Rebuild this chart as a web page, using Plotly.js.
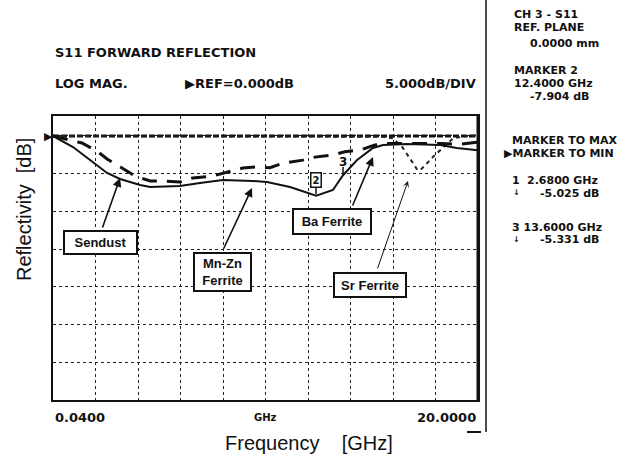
<!DOCTYPE html>
<html><head><meta charset="utf-8">
<script src="https://cdn.plot.ly/plotly-3.0.1.min.js"></script>
<style>html,body{margin:0;padding:0;background:#fff}#chart{width:643px;height:456px}</style>
</head><body><div id="chart"></div>
<script>
// ---- data (frequency in GHz, reflectivity in dB) ----
const solidFreq = [0.04, 0.98, 1.78, 2.58, 3.19, 4.13, 4.6, 6.0, 6.94, 8.02, 9.43, 10.09, 11.17, 12.11, 12.4, 13.19, 13.66, 14.32, 15.07, 15.54, 16.67, 18.22, 19.0, 20.0];
const solidDb   = [0, -1.46, -3.18, -4.9, -5.7, -6.5, -6.76, -6.63, -6.23, -5.84, -5.97, -6.1, -6.76, -7.69, -7.9, -7.16, -5.2, -3.18, -1.59, -1.19, -1.06, -1.19, -1.59, -1.9];

const dashFreq = [0.04, 1.4, 2.15, 2.58, 3.28, 3.89, 4.6, 5.2, 6.0, 6.6, 7.55, 8.21, 8.96, 9.62, 10.23, 10.84, 11.78, 12.34, 13.19, 13.75, 14.46, 15.16, 15.6, 16.5, 17.5, 18.3, 19.1, 20.0];
const dashDb   = [0, -0.93, -2.1, -3.05, -4.24, -5.3, -5.97, -5.97, -6.1, -5.57, -5.3, -4.77, -4.24, -4.1, -4.2, -3.6, -3.2, -2.8, -2.5, -2.1, -1.86, -1.2, -1.0, -1.0, -1.0, -1.0, -1.1, -0.8];

const srFreq = [0.04, 4, 8, 12, 15.5, 16.0, 16.44, 16.95, 17.15, 17.3, 17.98, 18.5, 18.83, 19.5, 20.0];
const srDb   = [0, 0, 0, 0, -0.1, -0.3, -1.46, -3.6, -4.5, -4.5, -2.5, -1.2, -0.3, 0, 0.1];

const refFreq = [0.04, 20.0];
const refDb   = [0, 0];

const xTickLabels = ["0.0400", "GHz", "20.0000"];
const headerTexts = ["S11 FORWARD REFLECTION", "LOG MAG.", "\u25B6REF=0.000dB", "5.000dB/DIV"];
const sideTexts = ["CH 3 - S11", "REF. PLANE", "0.0000 mm", "MARKER 2", "12.4000 GHz", "-7.904 dB",
                   "MARKER TO MAX", "\u25B6MARKER TO MIN", "1", "2.6800 GHz", "\u2193", "-5.025 dB",
                   "3 13.6000 GHz", "\u2193", "-5.331 dB"];
const materialLabels = ["Sendust", "Mn-Zn<br>Ferrite", "Ba Ferrite", "Sr Ferrite"];

// ---- layout helpers (pixel -> paper coordinates) ----
const PL = 53, PR = 478, PT = 116, PB = 400;
const xp = px => (px - PL) / (PR - PL);
const yp = py => (PB - py) / (PB - PT);
const X0 = 0.04, X1 = 20.0, Y0 = -35, Y1 = 2.65;
const xd = px => X0 + (px - PL) / (PR - PL) * (X1 - X0);
const yd = py => Y0 + (PB - py) / (PB - PT) * (Y1 - Y0);

const instFont = {family: "DejaVu Sans, Verdana, sans-serif", size: 13, color: "#111"};
const sideFont = {family: "DejaVu Sans, Verdana, sans-serif", size: 11, color: "#111"};
const smallFont = {family: "DejaVu Sans, Verdana, sans-serif", size: 8, color: "#111"};
const boxFont = {family: "Liberation Sans, Arial, sans-serif", size: 13, color: "#111"};

const traces = [
  {x: refFreq, y: refDb, mode: "lines", name: "reference", line: {color: "#111", width: 3, dash: "6px,2px"}, hoverinfo: "skip"},
  {x: srFreq, y: srDb, mode: "lines", name: "Sr Ferrite", line: {color: "#222", width: 2, dash: "4px,4px"}},
  {x: dashFreq, y: dashDb, mode: "lines", name: "Sendust", line: {color: "#111", width: 3, dash: "15px,10px"}},
  {x: solidFreq, y: solidDb, mode: "lines", name: "Mn-Zn / Ba Ferrite", line: {color: "#111", width: 2}}
];

const ann = [];
function txt(t, px, py, font, anchor) {
  ann.push({text: t, xref: "paper", yref: "paper", x: xp(px), y: yp(py), xanchor: anchor || "left", yanchor: "middle", showarrow: false, font: font});
}
// header
txt("<b>" + headerTexts[0] + "</b>", 53, 52, instFont);
txt("<b>" + headerTexts[1] + "</b>", 53, 84, instFont);
txt("<b>" + headerTexts[2] + "</b>", 183, 84, instFont);
txt("<b>" + headerTexts[3] + "</b>", 478, 84, instFont, "right");
// side panel
const sidePos = [[512,15],[512,27],[528,44],[512,70.5],[512,84],[528,96.5],[510,140],[502,153],[510,180],[525,180],[511,192],[538,193],[510,227],[511,239],[538,239]];
sideTexts.forEach((t, i) => txt("<b>" + t + "</b>", sidePos[i][0], sidePos[i][1], t === "\u2193" ? smallFont : sideFont));
// x tick labels
txt("<b>" + xTickLabels[0] + "</b>", 53, 417, instFont);
txt("<b>" + xTickLabels[1] + "</b>", 265, 417, {family: instFont.family, size: 10, color: "#111"}, "center");
txt("<b>" + xTickLabels[2] + "</b>", 478, 417, instFont, "right");
// axis titles
ann.push({text: "Frequency\u00A0\u00A0\u00A0\u00A0[GHz]", xref: "paper", yref: "paper", x: xp(309), y: yp(443), xanchor: "center", yanchor: "middle", showarrow: false, font: {family: "Liberation Sans, Arial, sans-serif", size: 20, color: "#111"}});
ann.push({text: "Reflectivity\u00A0\u00A0[dB]", xref: "paper", yref: "paper", x: xp(24), y: yp(210), xanchor: "center", yanchor: "middle", textangle: -90, showarrow: false, font: {family: "Liberation Sans, Arial, sans-serif", size: 20, color: "#111"}});
// reference position triangle
txt("\u25B6", 55, 136, {family: "DejaVu Sans", size: 11, color: "#111"}, "right");

// material label boxes
const boxes = [[100.5, 242.5, 71, 21], [222.5, 272, 55, 36], [332, 221.5, 76, 23], [370, 285, 70, 22]];
materialLabels.forEach((t, i) => {
  const b = boxes[i];
  ann.push({text: "<b>" + t + "</b>", xref: "paper", yref: "paper", x: xp(b[0]), y: yp(b[1]), xanchor: "center", yanchor: "middle",
    showarrow: false, width: b[2], height: b[3], borderpad: 0, borderwidth: 2, bordercolor: "#111", bgcolor: "#fff", font: boxFont});
});
// arrows (tail px -> tip px)
const arrows = [[102, 229, 120, 178, 1.6, 2], [223, 250, 252, 188, 1.6, 2], [352, 207, 373, 157, 1.6, 2], [377, 270, 408, 181, 1, 3]];
arrows.forEach(a => {
  ann.push({text: "", x: xd(a[2]), y: yd(a[3]), ax: xd(a[0]), ay: yd(a[1]), axref: "x", ayref: "y", xref: "x", yref: "y",
    showarrow: true, arrowhead: a[5], arrowsize: 1.1, arrowwidth: a[4], arrowcolor: "#111", standoff: 0, startstandoff: 0});
});
// marker flags
ann.push({text: "<b>2</b>", xref: "paper", yref: "paper", x: xp(316), y: yp(180), xanchor: "center", yanchor: "middle", showarrow: false,
  borderwidth: 1.5, bordercolor: "#111", bgcolor: "#fff", borderpad: 1, font: {family: "DejaVu Sans", size: 10, color: "#111"}});
txt("<b>3</b>", 343, 162, {family: "DejaVu Sans", size: 12, color: "#111"}, "center");

const shapes = [
  {type: "line", xref: "paper", yref: "paper", x0: xp(316), x1: xp(316), y0: yp(187), y1: yp(194), line: {color: "#111", width: 1.5}},
  {type: "line", xref: "paper", yref: "paper", x0: xp(343), x1: xp(343), y0: yp(167), y1: yp(173), line: {color: "#111", width: 1.5}},
  {type: "line", xref: "paper", yref: "paper", x0: xp(486), x1: xp(486), y0: yp(0), y1: yp(432), line: {color: "#111", width: 1.5}},
  {type: "line", xref: "paper", yref: "paper", x0: xp(467), x1: xp(481), y0: yp(432), y1: yp(432), line: {color: "#111", width: 2}},
  {type: "line", xref: "paper", yref: "paper", x0: 1, x1: 1, y0: 0, y1: 1, line: {color: "#111", width: 3}}
];

const layout = {
  width: 643, height: 456,
  margin: {l: PL, r: 643 - PR, t: PT, b: 456 - PB, pad: 0},
  paper_bgcolor: "#fff", plot_bgcolor: "#fff",
  showlegend: false,
  xaxis: {range: [X0, X1], tick0: 0.04, dtick: 1.996, showgrid: true, gridcolor: "#222", gridwidth: 1, griddash: "dot",
          zeroline: false, showticklabels: false, ticks: "", showline: true, mirror: true, linecolor: "#111", linewidth: 2, fixedrange: true},
  yaxis: {range: [Y0, Y1], tick0: 0, dtick: 5, showgrid: true, gridcolor: "#222", gridwidth: 1, griddash: "dot",
          zeroline: false, showticklabels: false, ticks: "", showline: true, mirror: true, linecolor: "#111", linewidth: 2, fixedrange: true},
  annotations: ann,
  shapes: shapes
};
Plotly.newPlot("chart", traces, layout, {staticPlot: true, displayModeBar: false});
</script></body></html>
